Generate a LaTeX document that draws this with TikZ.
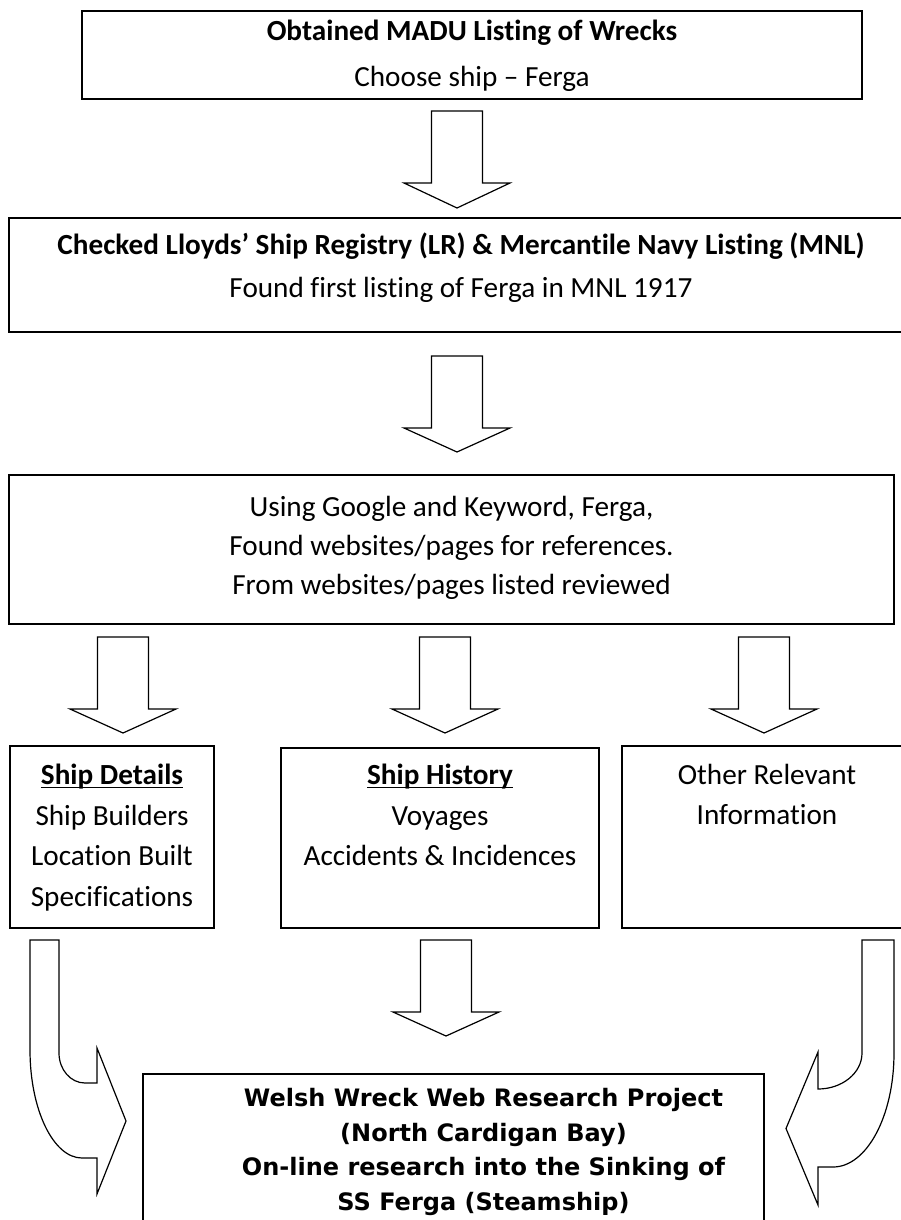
\documentclass[tikz,border=0pt]{standalone}
\usepackage{fontspec}
\setmainfont{Carlito}[Ligatures={TeX,CommonOff}]
\newfontfamily\verd{DejaVu Sans}
\usetikzlibrary{positioning}

\tikzstyle{box} = [rectangle, draw, line width=0.9pt, inner sep=0pt, outer sep=0pt]
\tikzstyle{txt} = [align=center, inner sep=0pt]
\tikzstyle{blk} = [draw, line width=0.6pt, line join=miter, fill=white]

% hollow down arrow: centre x, top, head start, tip
\newcommand{\blockarrow}[4]{%
  \draw[blk] (#1-25.5,#2) -- (#1+25.5,#2) -- (#1+25.5,#3) -- (#1+53,#3)
    -- (#1,#4) -- (#1-53,#3) -- (#1-25.5,#3) -- cycle;}

\begin{document}
\begin{tikzpicture}[x=0.5pt, y=-0.5pt]
\useasboundingbox (0,0) rectangle (900,1220);

% Top of the chain
	\node[box, minimum width=390pt, minimum height=44pt] at (472,55) (obt) {};
	\node[txt, font=\fontsize{14.6}{23}\selectfont, below=4.3pt of obt.north] (obttxt)
		{\textbf{Obtained MADU Listing of Wrecks}\\Choose ship – Ferga};
	\node[box, minimum width=452pt, minimum height=57pt] at (461,275) (chk) {};
	\node[txt, font=\fontsize{14.6}{21.5}\selectfont, below=7pt of chk.north] (chktxt)
		{\textbf{Checked Lloyds’ Ship Registry (LR) \& Mercantile Navy Listing (MNL)}\\Found first listing of Ferga in MNL 1917};
	\node[box, minimum width=442.5pt, minimum height=74.5pt] at (451.5,549.5) (srch) {};
	\node[txt, font=\fontsize{14.6}{19.5}\selectfont, below=10.3pt of srch.north] (srchtxt)
		{Using Google and Keyword, Ferga,\\Found websites/pages for references.\\From websites/pages listed reviewed};

% Three topics
	\node[box, minimum width=102pt, minimum height=91pt] at (112,837) (det) {};
	\node[txt, font=\fontsize{14.6}{20.3}\selectfont, below=8.8pt of det.north] (dettxt)
		{\underbar{\textbf{Ship Details}}\\Ship Builders\\Location Built\\Specifications};
	\node[box, minimum width=159pt, minimum height=90pt] at (440,838) (hist) {};
	\node[txt, font=\fontsize{14.6}{20.3}\selectfont, below=7.8pt of hist.north] (histtxt)
		{\underbar{\textbf{Ship History}}\\Voyages\\Accidents \& Incidences};
	\node[box, minimum width=145pt, minimum height=91pt] at (767,837) (oth) {};
	\node[txt, font=\fontsize{14.6}{20}\selectfont, below=8.8pt of oth.north] (othtxt)
		{Other Relevant\\Information};

% Project box
	\node[box, minimum width=310.5pt, minimum height=83pt] at (453.5,1157) (proj) {};
	\node[txt, font=\verd\bfseries\fontsize{12}{17.3}\selectfont, below=6.9pt of proj.north, xshift=15pt] (projtxt)
		{Welsh Wreck Web Research Project\\(North Cardigan Bay)\\On-line research into the Sinking of\\SS Ferga (Steamship)};

% Straight arrows
	\blockarrow{457}{111}{183}{208}
	\blockarrow{457}{356}{428}{452}
	\blockarrow{123}{637}{709}{733}
	\blockarrow{445}{637}{709}{733}
	\blockarrow{764}{637}{709}{733}
	\blockarrow{446}{940}{1012}{1036}

% Bent arrows into the project box
	\draw[blk] (30,940) -- (59,940) -- (59,1053) .. controls (59,1069.6) and (70.6,1083) .. (85,1083)
		-- (97,1083) -- (97,1048) -- (126,1121) -- (97,1194) -- (97,1158) -- (82,1158)
		.. controls (53.3,1158) and (30,1109.6) .. (30,1050) -- cycle;
	\draw[blk] (862,940) -- (894,940) -- (894,1053) .. controls (894,1116) and (866.7,1167) .. (833,1167)
		-- (818,1167) -- (818,1205) -- (786,1128.5) -- (818,1052) -- (818,1089)
		.. controls (842.3,1089) and (862,1072.9) .. (862,1053) -- cycle;

\end{tikzpicture}
\end{document}
